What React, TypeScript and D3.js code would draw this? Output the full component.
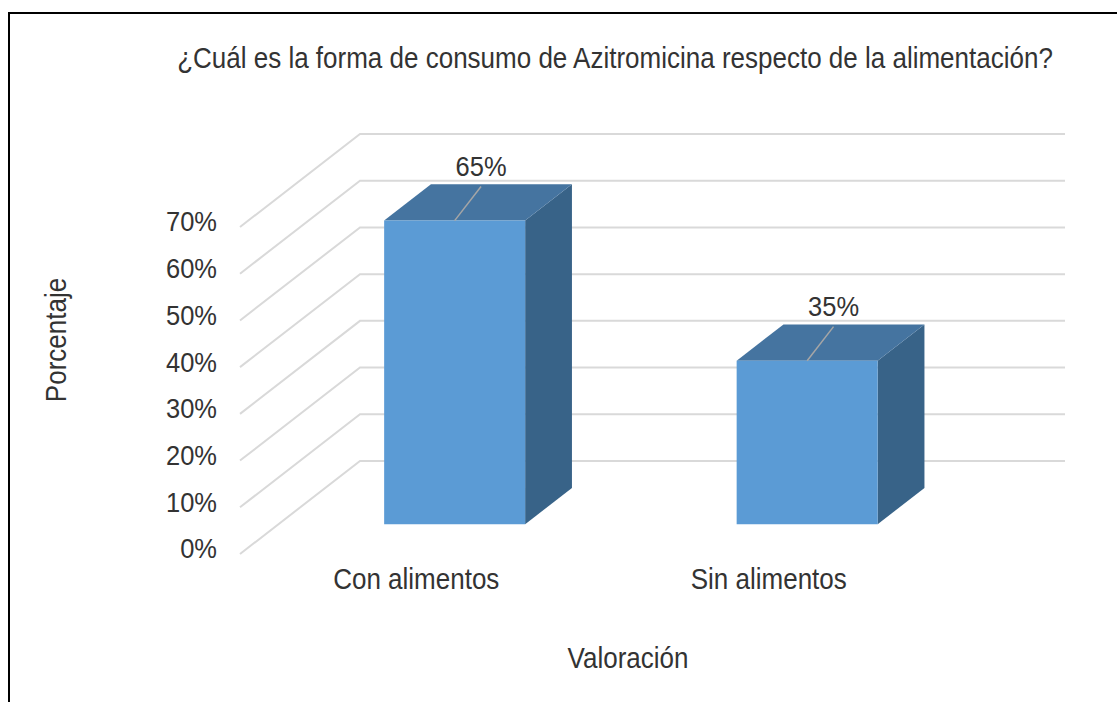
import React from 'react';
import * as d3 from 'd3';

const title = "¿Cuál es la forma de consumo de Azitromicina respecto de la alimentación?";
const categories = ["Con alimentos", "Sin alimentos"];
const values = [0.65, 0.35];
const yTicks = [0, 0.1, 0.2, 0.3, 0.4, 0.5, 0.6, 0.7];
const x_label = "Valoración";
const y_label = "Porcentaje";

const W = 1117;
const H = 702;
const FONT = "'Liberation Sans', Arial, sans-serif";
const TEXT = "#333333";
const STRETCH = 1.1; // the reference text is a bit taller than plain Arial

// front plane of the floor, plus the oblique depth offset
const floorY = 554;
const front = { left: 240, right: 945 };
const depth = { dx: 120, dy: -93 };
const barDepth = [0.32, 0.71];

const xScale = d3.scaleBand<string>()
    .domain(categories)
    .range([front.left, front.right])
    .paddingInner(0.6)
    .paddingOuter(0.3);

const yScale = d3.scaleLinear().domain([0, 0.7]).range([0, 327]);

// project (x in front plane, value, depth 0..1) to screen
const P = (x: number, v: number, d: number): [number, number] =>
    [x + d * depth.dx, floorY - yScale(v) + d * depth.dy];

const poly = d3.line<[number, number]>().x(p => p[0]).y(p => p[1]);
const closed = (pts: [number, number][]) => poly(pts) + "Z";

const fmt = d3.format(".0%");

const Label = (props: { x: number; y: number; anchor?: string; rotate?: number; size?: number; baseline?: string; children: React.ReactNode }) => (
    <text
        transform={`translate(${props.x}, ${props.y}) rotate(${props.rotate ?? 0}) scale(1, ${STRETCH})`}
        textAnchor={props.anchor ?? "middle"}
        dominantBaseline={props.baseline ?? "middle"}
        fontFamily={FONT}
        fontSize={props.size ?? 26}
        fill={TEXT}
    >{props.children}</text>
);

export default function App() {
    const [d0, d1] = barDepth;
    return (
        <svg width={W} height={H} style={{ position: 'absolute', left: 0, top: 0, display: 'block' }}>
            <rect x={0} y={0} width={W} height={H} fill="#ffffff" />
            <line x1={8} y1={13} x2={W} y2={13} stroke="#000" strokeWidth={2} />
            <line x1={9} y1={12} x2={9} y2={H} stroke="#000" strokeWidth={2} />

            <Label x={615} y={68} baseline="auto">{title}</Label>

            {/* gridlines: floor diagonal + back wall */}
            {yTicks.map(t => {
                const a = P(front.left, t, 0);
                const b = P(front.left, t, 1);
                const c = P(front.right, t, 1);
                return (
                    <g key={t}>
                        <path d={poly([a, b, c]) ?? ""} fill="none" stroke="#d9d9d9" strokeWidth={2} />
                        <Label x={217} y={a[1] - 3} anchor="end" size={25.5}>{fmt(t)}</Label>
                    </g>
                );
            })}

            {/* bars */}
            {categories.map((c, i) => {
                const x0 = xScale(c)!;
                const x1 = x0 + xScale.bandwidth();
                const v = values[i];
                const frontFace = closed([P(x0, 0, d0), P(x1, 0, d0), P(x1, v, d0), P(x0, v, d0)]);
                const topFace = closed([P(x0, v, d0), P(x1, v, d0), P(x1, v, d1), P(x0, v, d1)]);
                const sideFace = closed([P(x1, 0, d0), P(x1, v, d0), P(x1, v, d1), P(x1, 0, d1)]);
                const cx = (x0 + x1) / 2;
                const anchor = P(cx, v, d0);
                const topMid = P(cx, v, (d0 + d1) / 2);
                const lx = topMid[0] + 3;
                const ly = topMid[1] - 34;
                return (
                    <g key={c}>
                        <path d={sideFace} fill="#386388" />
                        <path d={topFace} fill="#4574a0" />
                        <path d={frontFace} fill="#5b9bd5" />
                        <line x1={lx} y1={ly + 18} x2={anchor[0]} y2={anchor[1]} stroke="#a6a6a6" strokeWidth={1.5} />
                        <Label x={lx} y={ly} size={25.5}>{fmt(v)}</Label>
                        <Label x={cx} y={581}>{c}</Label>
                    </g>
                );
            })}

            <Label x={628} y={660}>{x_label}</Label>
            <Label x={58} y={340} rotate={-90}>{y_label}</Label>
        </svg>
    );
}
